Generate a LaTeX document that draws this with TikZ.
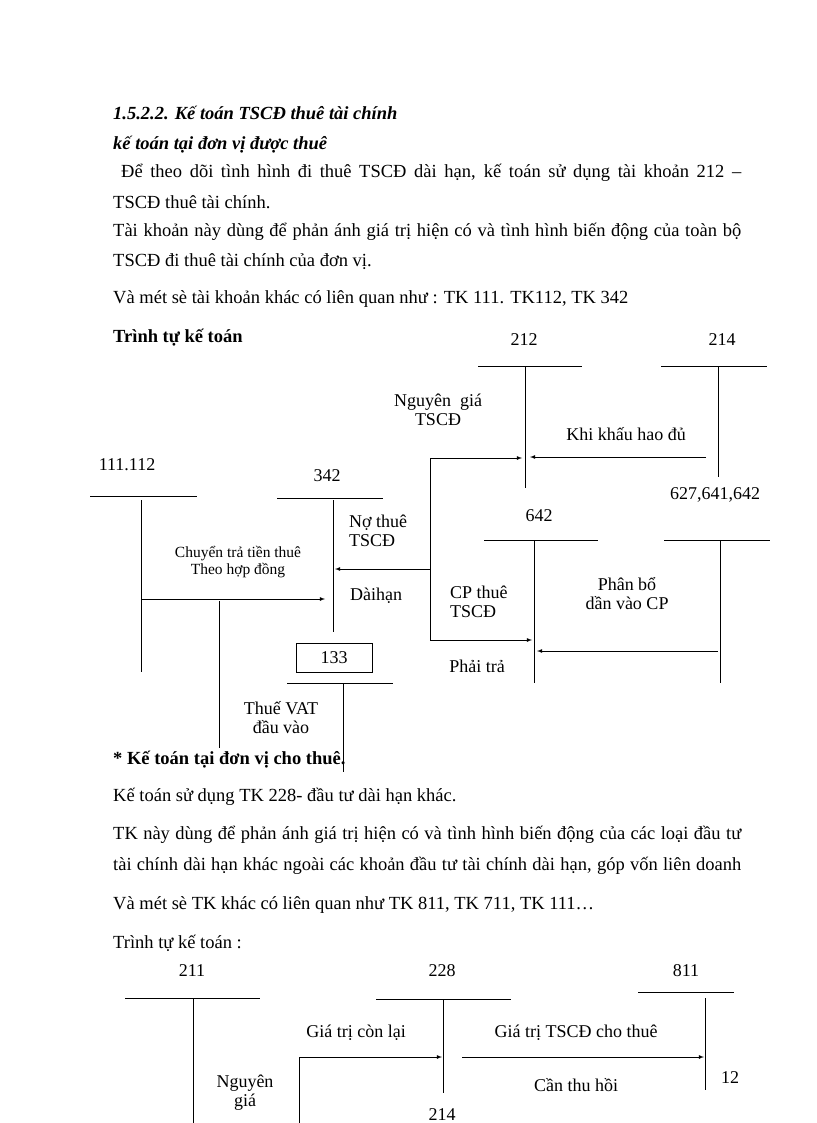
\documentclass[tikz,border=0pt]{standalone}
\usepackage{fontspec}
\setmainfont{Liberation Serif}
\begin{document}
\begin{tikzpicture}[x=1pt,y=-1pt,
  ln/.style={line width=0.8pt},
  ar/.style={line width=0.8pt,-latex},
  lb/.style={inner sep=0pt,font=\fontsize{18}{19}\selectfont,align=center},
  tx/.style={inner sep=0pt,anchor=west,font=\fontsize{18.5}{18}\selectfont},
  sm/.style={inner sep=0pt,font=\fontsize{15.5}{17}\selectfont,align=center}]
\useasboundingbox (0,0) rectangle (816,1123);
% text
\node[tx,font=\fontsize{18.5}{18}\selectfont\bfseries\itshape] (h1) at (113,113) {1.5.2.2. Kế toán TSCĐ thuê tài chính};
\node[tx,font=\fontsize{18.5}{18}\selectfont\bfseries\itshape] (h2) at (113,145) {kế toán tại đơn vị được thuê};
\node[tx] (p1) at (121,173) {\makebox[620pt][s]{Để theo dõi tình hình đi thuê TSCĐ dài hạn, kế toán sử dụng tài khoản 212 –}};
\node[tx] (p2) at (113,202) {TSCĐ thuê tài chính.};
\node[tx] (p3) at (113,232) {\makebox[628pt][s]{Tài khoản này dùng để phản ánh giá trị hiện có và tình hình biến động của toàn bộ}};
\node[tx] (p4) at (113,262) {TSCĐ đi thuê tài chính của đơn vị.};
\node[tx] (p5) at (113,299) {Và mét sè tài khoản khác có liên quan như : TK 111. TK112, TK 342};
\node[tx,font=\fontsize{18.5}{18}\selectfont\bfseries] (p6) at (113,338) {Trình tự kế toán};
\node[tx,font=\fontsize{18.5}{18}\selectfont\bfseries] (q1) at (113,760) {* Kế toán tại đơn vị cho thuê.};
\node[tx] (q2) at (113,797) {Kế toán sử dụng TK 228- đầu tư dài hạn khác.};
\node[tx] (q3) at (113,835) {\makebox[628pt][s]{TK này dùng để phản ánh giá trị hiện có và tình hình biến động của các loại đầu tư}};
\node[tx] (q4) at (113,866) {\makebox[628pt][s]{tài chính dài hạn khác ngoài các khoản đầu tư tài chính dài hạn, góp vốn liên doanh}};
\node[tx] (q5) at (113,905) {Và mét sè TK khác có liên quan như TK 811, TK 711, TK 111…};
\node[tx] (q6) at (113,943) {Trình tự kế toán :};
% top diagram
\node[lb] (l212) at (524,340) {212};
\draw[ln] (478,366) -- (582,366); \draw[ln] (525,366) -- (525,488);
\node[lb] (l214) at (722,340) {214};
\draw[ln] (661,366) -- (767,366); \draw[ln] (718,366) -- (718,477);
\node[lb] (ng) at (438,410) {Nguyên\ \ giá\\TSCĐ};
\node[lb] (kh) at (626,434) {Khi khấu hao đủ};
\coordinate (a1) at (706,457); \coordinate (a1e) at (530,457);
\draw[ar] (a1) -- (a1e);
\coordinate (b0) at (430,458); \coordinate (b1) at (522,458);
\coordinate (b2) at (430,640); \coordinate (b3) at (532,640);
\draw[ar] (b2) -- (b0) -- (b1);
\draw[ar] (b2) -- (b3);
\coordinate (m0) at (430,569); \coordinate (m1) at (335,569);
\draw[ar] (m0) -- (m1);
\node[lb] (l111) at (127,465) {111.112};
\draw[ln] (90,496) -- (197,496); \draw[ln] (141,500) -- (141,672);
\node[lb] (l342) at (327,476) {342};
\draw[ln] (277,498) -- (383,498); \draw[ln] (333,500) -- (333,632);
\node[lb,anchor=north west,align=left] (no) at (349,515) {Nợ thuê\\TSCĐ};
\node[sm] (ct) at (238,562) {Chuyển trả tiền thuê\\Theo hợp đồng};
\coordinate (c0) at (141,599); \coordinate (c1) at (325,599);
\draw[ar] (c0) -- (c1);
\node[lb] (dh) at (376,596) {Dàihạn};
\draw[ln] (219,601) -- (219,748);
\node[draw,line width=0.8pt,minimum width=76pt,minimum height=29pt,inner sep=0pt,font=\fontsize{18}{17}\selectfont] (b133) at (334,657.5) {133};
\draw[ln] (287,683) -- (393,683); \draw[ln] (343,683) -- (343,772);
\node[lb] (vat) at (281,718) {Thuế VAT\\đầu vào};
\node[lb] (l642) at (539,516) {642};
\draw[ln] (484,540) -- (598,540); \draw[ln] (534,540) -- (534,683);
\node[lb] (l627) at (715,495) {627,641,642};
\draw[ln] (664,540) -- (770,540); \draw[ln] (720,540) -- (720,683);
\node[lb,anchor=north west,align=left] (cp) at (450,586) {CP thuê\\TSCĐ};
\node[lb] (pb) at (627,594) {Phân bổ\\dần vào CP};
\coordinate (d0) at (718,651); \coordinate (d1) at (537,651);
\draw[ar] (d0) -- (d1);
\node[lb] (pt) at (477,666) {Phải trả};
% bottom diagram
\node[lb] (l211) at (192,971) {211};
\draw[ln] (125,998) -- (260,998); \draw[ln] (193,998) -- (193,1123);
\node[lb] (l228) at (442,971) {228};
\draw[ln] (376,999) -- (511,999); \draw[ln] (443,1000) -- (443,1093);
\node[lb] (l811) at (686,971) {811};
\draw[ln] (638,992) -- (734,992); \draw[ln] (705,998) -- (705,1090);
\node[lb] (gc) at (356,1033) {Giá trị còn lại};
\node[lb] (gt) at (576,1033) {Giá trị TSCĐ cho thuê};
\coordinate (e0) at (299,1123); \coordinate (e1) at (299,1057); \coordinate (e2) at (442,1057);
\draw[ar] (e0) -- (e1) -- (e2);
\coordinate (f0) at (462,1057); \coordinate (f1) at (704,1057);
\draw[ar] (f0) -- (f1);
\node[lb] (ngb) at (245,1093) {Nguyên\\giá};
\node[lb] (cth) at (576,1085) {Cần thu hồi};
\node[lb] (t12) at (730,1078) {12};
\node[lb] (l214b) at (442,1115) {214};
\end{tikzpicture}
\end{document}
